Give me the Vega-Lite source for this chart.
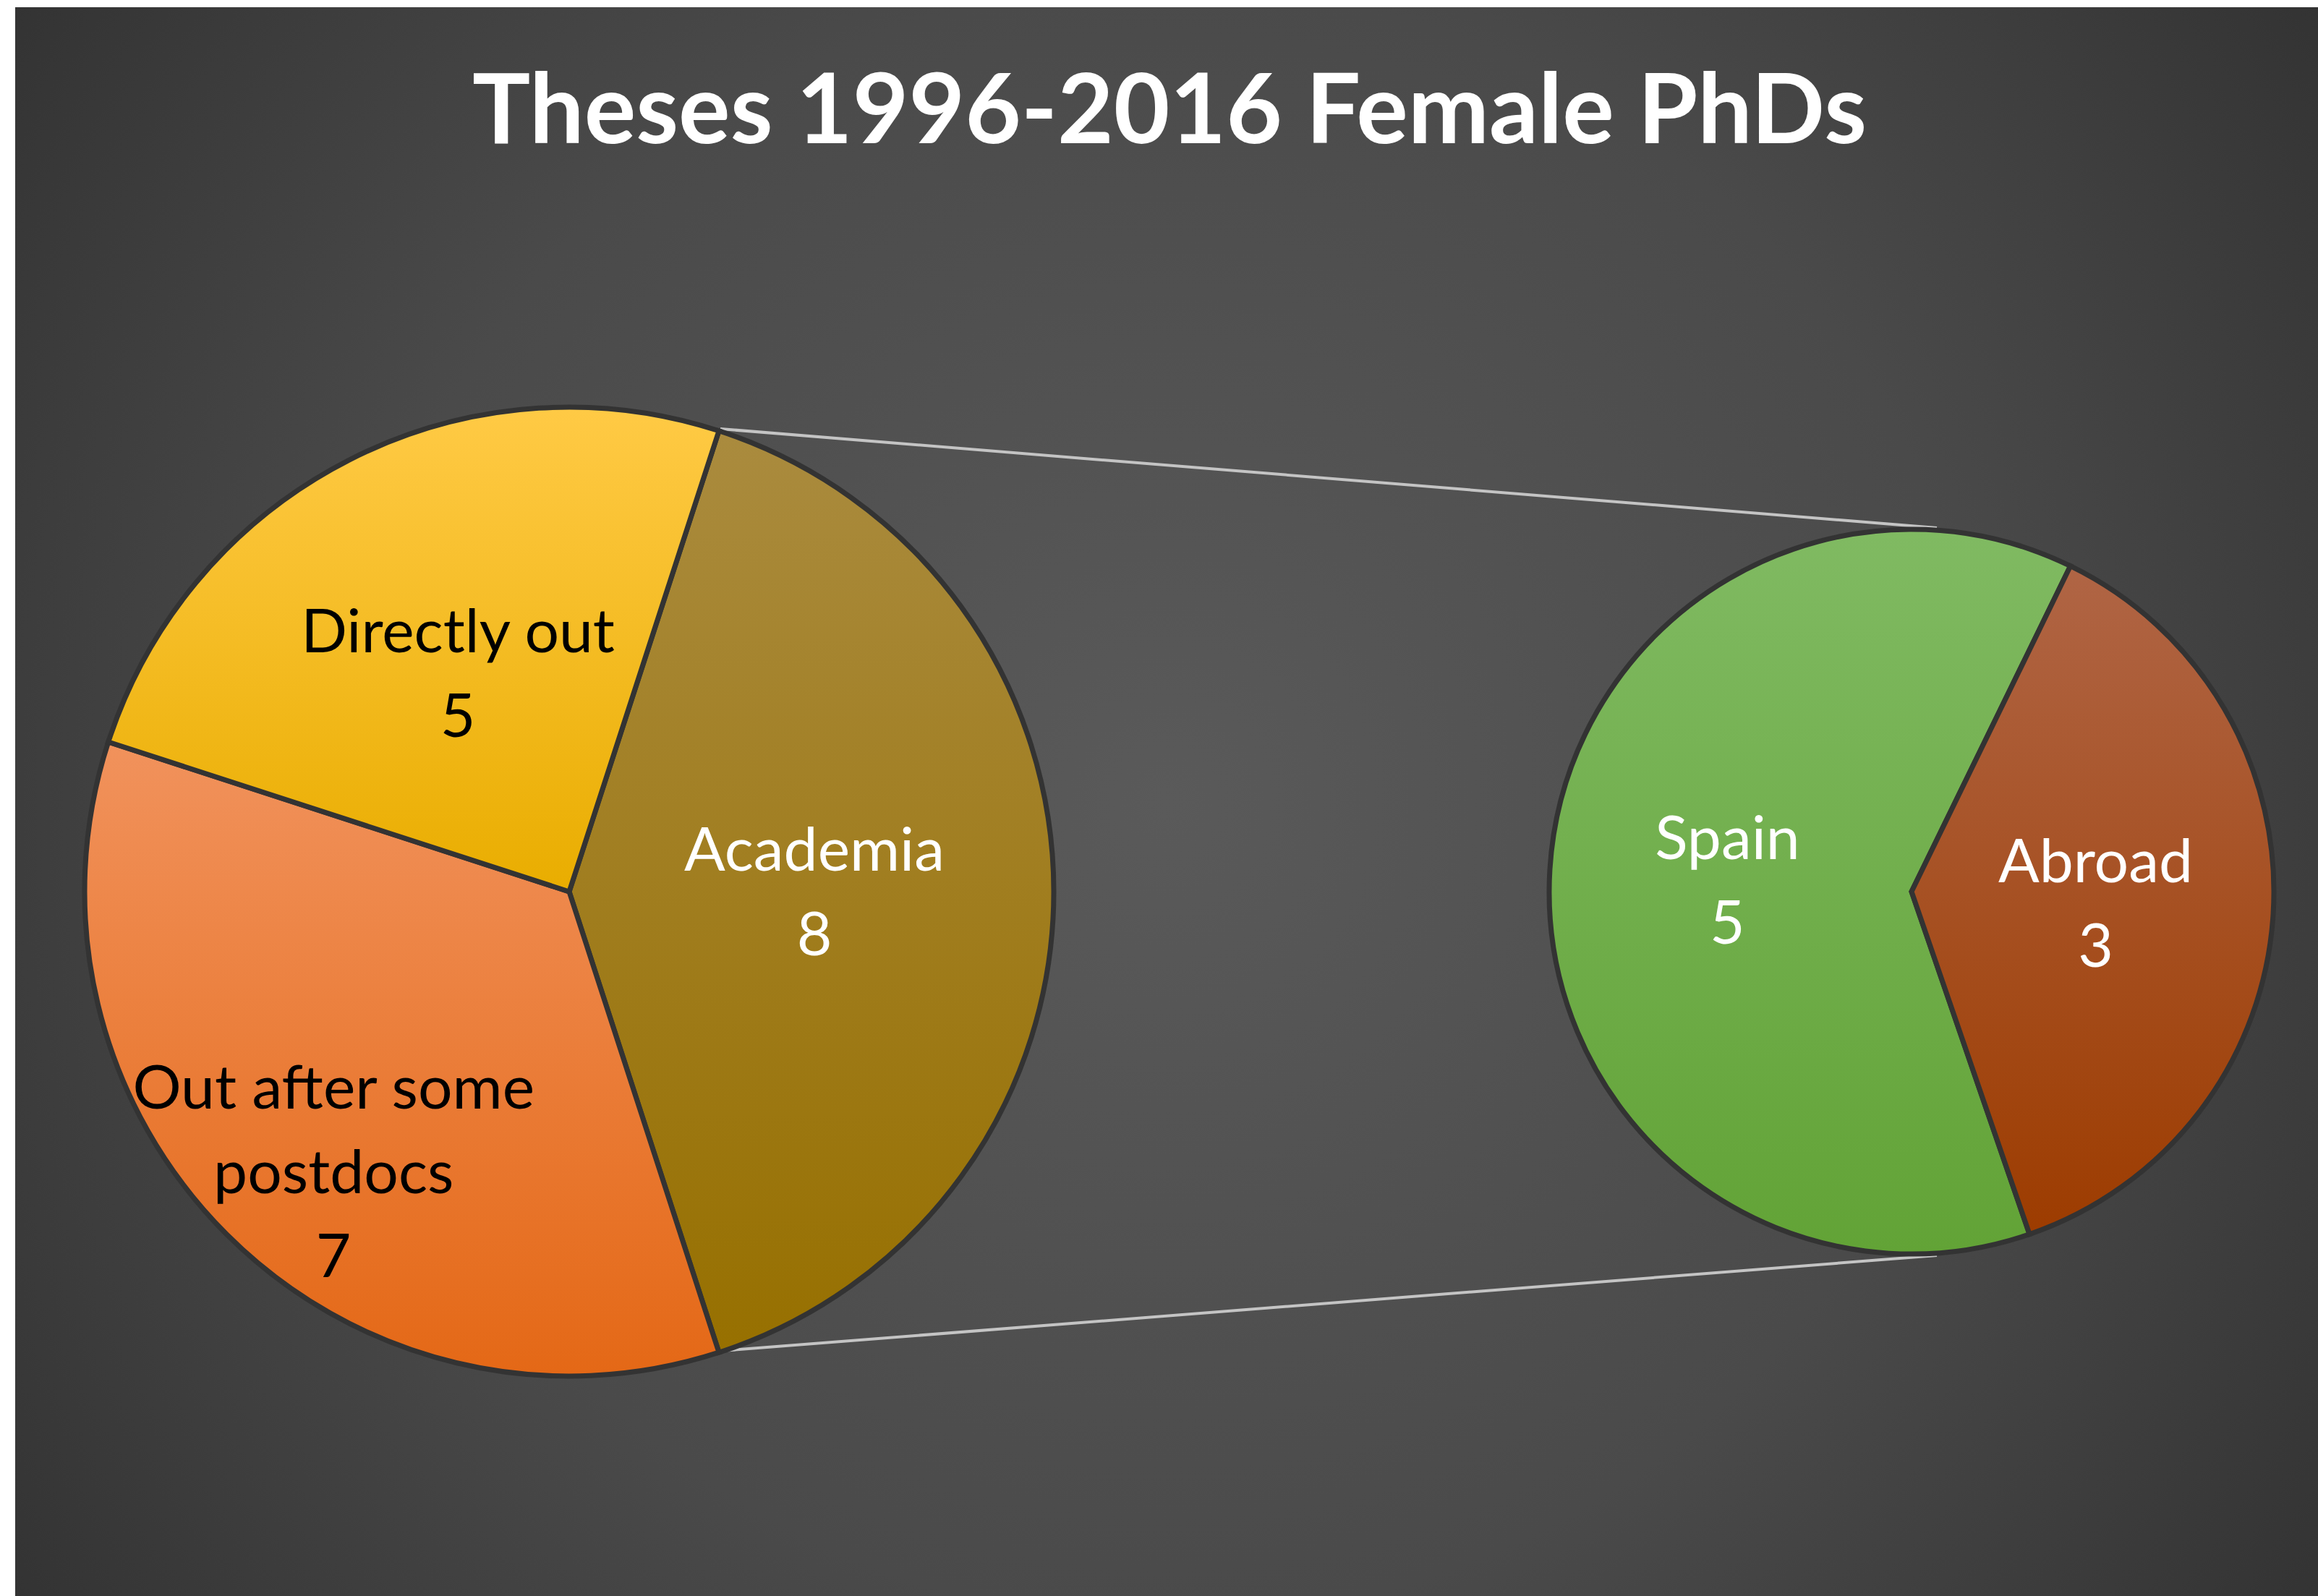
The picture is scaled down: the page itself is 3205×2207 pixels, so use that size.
{
  "$schema": "https://vega.github.io/schema/vega-lite/v6.json",
  "width": 3184,
  "height": 2197,
  "autosize": "none",
  "padding": {"left": 21, "top": 10, "right": 0, "bottom": 0},
  "background": "#ffffff",
  "title": {
    "text": "Theses 1996-2016 Female PhDs",
    "anchor": "middle",
    "orient": "top",
    "baseline": "top",
    "offset": 0,
    "dy": 216,
    "dx": 4,
    "font": "Lato",
    "fontSize": 134,
    "fontWeight": "bold",
    "color": "#ffffff"
  },
  "config": {
    "view": {
      "stroke": null,
      "fill": {
        "gradient": "radial",
        "x1": 0.5, "y1": 0.5, "r1": 0,
        "x2": 0.5, "y2": 0.5, "r2": 0.71,
        "stops": [
          {"offset": 0, "color": "#5a5a5a"},
          {"offset": 0.5, "color": "#4a4a4a"},
          {"offset": 1, "color": "#2a2a2a"}
        ]
      }
    }
  },
  "data": {
    "values": [
      {"pie": "Overall", "category": "Academia", "count": 8},
      {"pie": "Overall", "category": "Out after some\npostdocs", "count": 7},
      {"pie": "Overall", "category": "Directly out", "count": 5},
      {"pie": "Academia", "category": "Spain", "count": 5},
      {"pie": "Academia", "category": "Abroad", "count": 3}
    ]
  },
  "resolve": {"scale": {"x": "independent", "y": "independent", "theta": "independent"}},
  "layer": [
    {
      "data": {"values": [{"pie": "Overall"}, {"pie": "Academia"}]},
      "mark": {"type": "line", "stroke": "#c4c4c4", "strokeWidth": 4},
      "encoding": {
        "x": {"field": "pie", "type": "nominal", "scale": {"type": "point", "domain": ["Overall", "Academia"], "range": [975, 2657], "padding": 0}, "axis": null},
        "y": {"field": "pie", "type": "nominal", "scale": {"type": "point", "domain": ["Overall", "Academia"], "range": [583, 720], "padding": 0}, "axis": null}
      }
    },
    {
      "data": {"values": [{"pie": "Overall"}, {"pie": "Academia"}]},
      "mark": {"type": "line", "stroke": "#c4c4c4", "strokeWidth": 4},
      "encoding": {
        "x": {"field": "pie", "type": "nominal", "scale": {"type": "point", "domain": ["Overall", "Academia"], "range": [977, 2657], "padding": 0}, "axis": null},
        "y": {"field": "pie", "type": "nominal", "scale": {"type": "point", "domain": ["Overall", "Academia"], "range": [1858, 1726], "padding": 0}, "axis": null}
      }
    },
    {
      "transform": [{"filter": "datum.pie === 'Overall'"}],
      "encoding": {
        "x": {"field": "pie", "type": "nominal", "scale": {"type": "point", "domain": ["Overall", "Academia"], "range": [766, 2622], "padding": 0}, "axis": null},
        "y": {"field": "pie", "type": "nominal", "scale": {"type": "point", "domain": ["Overall", "Academia"], "range": [1223, 1223], "padding": 0}, "axis": null},
        "theta": {"field": "count", "type": "quantitative", "stack": true, "scale": {"range": [2.8274, 9.1106]}},
        "order": {"field": "category", "type": "nominal", "sort": "descending"},
        "detail": {"field": "category", "type": "nominal"}
      },
      "layer": [
        {
          "mark": {"type": "arc", "outerRadius": 670, "stroke": "#333333", "strokeWidth": 7},
          "encoding": {
            "fill": {
              "condition": [
                {"test": "datum.category === 'Academia'", "value": {"gradient": "linear", "x1": 0, "y1": 0, "x2": 0, "y2": 1, "stops": [{"offset": 0, "color": "#aa8b3e"}, {"offset": 1, "color": "#977000"}]}},
                {"test": "datum.category === 'Directly out'", "value": {"gradient": "linear", "x1": 0, "y1": 0, "x2": 0, "y2": 1, "stops": [{"offset": 0, "color": "#ffca45"}, {"offset": 1, "color": "#e9ad00"}]}}
              ],
              "value": {"gradient": "linear", "x1": 0, "y1": 0, "x2": 0, "y2": 1, "stops": [{"offset": 0, "color": "#f1925c"}, {"offset": 1, "color": "#e46816"}]}
            }
          }
        },
        {
          "mark": {"type": "text", "radius": 339, "dy": -29, "font": "Lato", "fontSize": 84, "baseline": "alphabetic", "align": "center"},
          "encoding": {
            "text": {"condition": {"test": "indexof(datum.category, 'Out after') < 0", "field": "category"}, "value": ""},
            "color": {"condition": {"test": "datum.category === 'Academia'", "value": "#ffffff"}, "value": "#000000"}
          }
        },
        {
          "mark": {"type": "text", "radius": 339, "dy": 88, "font": "Lato", "fontSize": 84, "baseline": "alphabetic", "align": "center"},
          "encoding": {
            "text": {"condition": {"test": "indexof(datum.category, 'Out after') < 0", "field": "count", "type": "quantitative"}, "value": ""},
            "color": {"condition": {"test": "datum.category === 'Academia'", "value": "#ffffff"}, "value": "#000000"}
          }
        },
        {
          "mark": {"type": "text", "radius": 547, "dx": 61, "dy": -87, "font": "Lato", "fontSize": 84, "baseline": "alphabetic", "align": "center", "lineBreak": "\n", "lineHeight": 117},
          "encoding": {
            "text": {"condition": {"test": "indexof(datum.category, 'Out after') === 0", "field": "category"}, "value": ""},
            "color": {"value": "#000000"}
          }
        },
        {
          "mark": {"type": "text", "radius": 547, "dx": 61, "dy": 146, "font": "Lato", "fontSize": 84, "baseline": "alphabetic", "align": "center"},
          "encoding": {
            "text": {"condition": {"test": "indexof(datum.category, 'Out after') === 0", "field": "count", "type": "quantitative"}, "value": ""},
            "color": {"value": "#000000"}
          }
        }
      ]
    },
    {
      "transform": [{"filter": "datum.pie === 'Academia'"}],
      "encoding": {
        "x": {"field": "pie", "type": "nominal", "scale": {"type": "point", "domain": ["Overall", "Academia"], "range": [766, 2622], "padding": 0}, "axis": null},
        "y": {"field": "pie", "type": "nominal", "scale": {"type": "point", "domain": ["Overall", "Academia"], "range": [1223, 1223], "padding": 0}, "axis": null},
        "theta": {"field": "count", "type": "quantitative", "stack": true, "scale": {"range": [0.4538, 6.737]}},
        "order": {"field": "category", "type": "nominal", "sort": "ascending"},
        "detail": {"field": "category", "type": "nominal"}
      },
      "layer": [
        {
          "mark": {"type": "arc", "outerRadius": 501, "stroke": "#333333", "strokeWidth": 7},
          "encoding": {
            "fill": {
              "condition": [
                {"test": "datum.category === 'Spain'", "value": {"gradient": "linear", "x1": 0, "y1": 0, "x2": 0, "y2": 1, "stops": [{"offset": 0, "color": "#80ba62"}, {"offset": 1, "color": "#62a336"}]}}
              ],
              "value": {"gradient": "linear", "x1": 0, "y1": 0, "x2": 0, "y2": 1, "stops": [{"offset": 0, "color": "#b06545"}, {"offset": 1, "color": "#9d3c00"}]}
            }
          }
        },
        {
          "mark": {"type": "text", "radius": 255, "dy": -29, "font": "Lato", "fontSize": 84, "baseline": "alphabetic", "align": "center", "color": "#ffffff"},
          "encoding": {"text": {"field": "category", "type": "nominal"}}
        },
        {
          "mark": {"type": "text", "radius": 255, "dy": 88, "font": "Lato", "fontSize": 84, "baseline": "alphabetic", "align": "center", "color": "#ffffff"},
          "encoding": {"text": {"field": "count", "type": "quantitative"}}
        }
      ]
    }
  ]
}
